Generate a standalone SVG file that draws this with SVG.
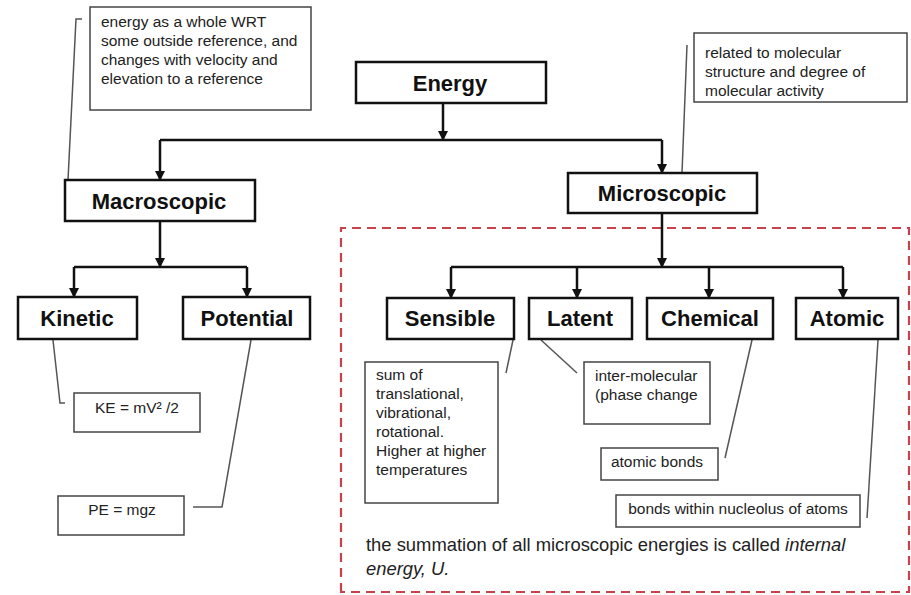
<svg xmlns="http://www.w3.org/2000/svg" width="911" height="595" viewBox="0 0 911 595">
<defs>
<marker id="ah" viewBox="0 0 10 10" refX="9" refY="5" markerWidth="4" markerHeight="4" orient="auto" markerUnits="strokeWidth">
<path d="M0,0 L10,5 L0,10 z" fill="#111"/>
</marker>
<style>
.node{fill:#fff;stroke:#111;stroke-width:2.5}
.note{fill:#fff;stroke:#444;stroke-width:1.5}
.lbl{font-family:"Liberation Sans",Arial,sans-serif;font-weight:bold;font-size:22px;fill:#111;text-anchor:middle}
.txt{font-family:"Liberation Sans",Arial,sans-serif;font-size:15.5px;fill:#222}
.big{font-family:"Liberation Sans",Arial,sans-serif;font-size:18.4px;fill:#222}
.conn{fill:none;stroke:#111;stroke-width:2.5}
.arr{fill:none;stroke:#111;stroke-width:2.5;marker-end:url(#ah)}
.lead{fill:none;stroke:#555;stroke-width:1.5}
.dash{fill:none;stroke:#c8424c;stroke-width:2.2;stroke-dasharray:9,6}
</style>
</defs>
<rect width="911" height="595" fill="#fff"/>

<g id="internal-region">
<path class="dash" d="M341,592 L341,228 L909,228 L909,592 Z"/>
</g>

<g id="connectors">
<line class="arr" x1="443" y1="103" x2="443" y2="140"/>
<line class="conn" x1="160" y1="140" x2="662" y2="140"/>
<line class="arr" x1="160" y1="140" x2="160" y2="180"/>
<line class="arr" x1="662" y1="140" x2="662" y2="173"/>
<line class="arr" x1="160" y1="221" x2="160" y2="267"/>
<line class="conn" x1="74" y1="267" x2="247" y2="267"/>
<line class="arr" x1="74" y1="267" x2="74" y2="297"/>
<line class="arr" x1="247" y1="267" x2="247" y2="297"/>
<line class="arr" x1="662" y1="213" x2="662" y2="267"/>
<line class="conn" x1="451" y1="267" x2="843" y2="267"/>
<line class="arr" x1="451" y1="267" x2="451" y2="298"/>
<line class="arr" x1="577" y1="267" x2="577" y2="298"/>
<line class="arr" x1="709" y1="267" x2="709" y2="298"/>
<line class="arr" x1="843" y1="267" x2="843" y2="298"/>
<polyline class="lead" points="82,19 76,19 68,180"/>
<line class="lead" x1="687" y1="45" x2="682" y2="173"/>
<polyline class="lead" points="53,340 60,403 65,403"/>
<polyline class="lead" points="251,340 222,507 193,507"/>
<line class="lead" x1="513" y1="340" x2="506" y2="373"/>
<line class="lead" x1="541" y1="340" x2="577" y2="373"/>
<line class="lead" x1="752" y1="340" x2="725" y2="458"/>
<line class="lead" x1="878" y1="340" x2="867" y2="518"/>
</g>

<g id="note-macro">
<rect class="note" x="90" y="7" width="221" height="103"/>
<text class="txt" x="101" y="27">energy as a whole WRT</text>
<text class="txt" x="101" y="46">some outside reference, and</text>
<text class="txt" x="101" y="65">changes with velocity and</text>
<text class="txt" x="101" y="84">elevation to a reference</text>
</g>

<g id="note-micro">
<rect class="note" x="694" y="33" width="213" height="69"/>
<text class="txt" x="705" y="58">related to molecular</text>
<text class="txt" x="705" y="77">structure and degree of</text>
<text class="txt" x="705" y="96">molecular activity</text>
</g>

<g id="energy">
<rect class="node" x="356" y="62" width="190" height="41"/>
<text class="lbl" x="450" y="91">Energy</text>
</g>

<g id="macroscopic">
<rect class="node" x="65" y="180" width="190" height="41"/>
<text class="lbl" x="159" y="209">Macroscopic</text>
</g>

<g id="microscopic">
<rect class="node" x="568" y="173" width="189" height="40"/>
<text class="lbl" x="662" y="201">Microscopic</text>
</g>

<g id="kinetic">
<rect class="node" x="18" y="297" width="119" height="42"/>
<text class="lbl" x="77" y="326">Kinetic</text>
</g>

<g id="potential">
<rect class="node" x="183" y="297" width="127" height="42"/>
<text class="lbl" x="247" y="326">Potential</text>
</g>

<g id="sensible">
<rect class="node" x="387" y="298" width="127" height="41"/>
<text class="lbl" x="450" y="326">Sensible</text>
</g>

<g id="latent">
<rect class="node" x="529" y="298" width="103" height="41"/>
<text class="lbl" x="580" y="326">Latent</text>
</g>

<g id="chemical">
<rect class="node" x="647" y="298" width="126" height="41"/>
<text class="lbl" x="710" y="326">Chemical</text>
</g>

<g id="atomic">
<rect class="node" x="796" y="298" width="102" height="41"/>
<text class="lbl" x="847" y="326">Atomic</text>
</g>

<g id="note-ke">
<rect class="note" x="74" y="393" width="126" height="39"/>
<text class="txt" x="137" y="413" text-anchor="middle">KE = mV² /2</text>
</g>

<g id="note-pe">
<rect class="note" x="58" y="496" width="126" height="39"/>
<text class="txt" x="122" y="515" text-anchor="middle">PE = mgz</text>
</g>

<g id="note-sensible">
<rect class="note" x="365" y="362" width="133" height="141"/>
<text class="txt" x="376" y="380">sum of</text>
<text class="txt" x="376" y="399">translational,</text>
<text class="txt" x="376" y="418">vibrational,</text>
<text class="txt" x="376" y="437">rotational.</text>
<text class="txt" x="376" y="456">Higher at higher</text>
<text class="txt" x="376" y="475">temperatures</text>
</g>

<g id="note-latent">
<rect class="note" x="584" y="362" width="126" height="62"/>
<text class="txt" x="595" y="381">inter-molecular</text>
<text class="txt" x="595" y="400">(phase change</text>
</g>

<g id="note-chemical">
<rect class="note" x="601" y="448" width="117" height="32"/>
<text class="txt" x="657" y="467" text-anchor="middle">atomic bonds</text>
</g>

<g id="note-atomic">
<rect class="note" x="616" y="495" width="244" height="32"/>
<text class="txt" x="738" y="514" text-anchor="middle">bonds within nucleolus of atoms</text>
</g>

<g id="internal-energy-text">
<text class="big" x="366" y="551">the summation of all microscopic energies is called <tspan font-style="italic">internal</tspan></text>
<text class="big" x="366" y="575"><tspan font-style="italic">energy, U.</tspan></text>
</g>
</svg>
